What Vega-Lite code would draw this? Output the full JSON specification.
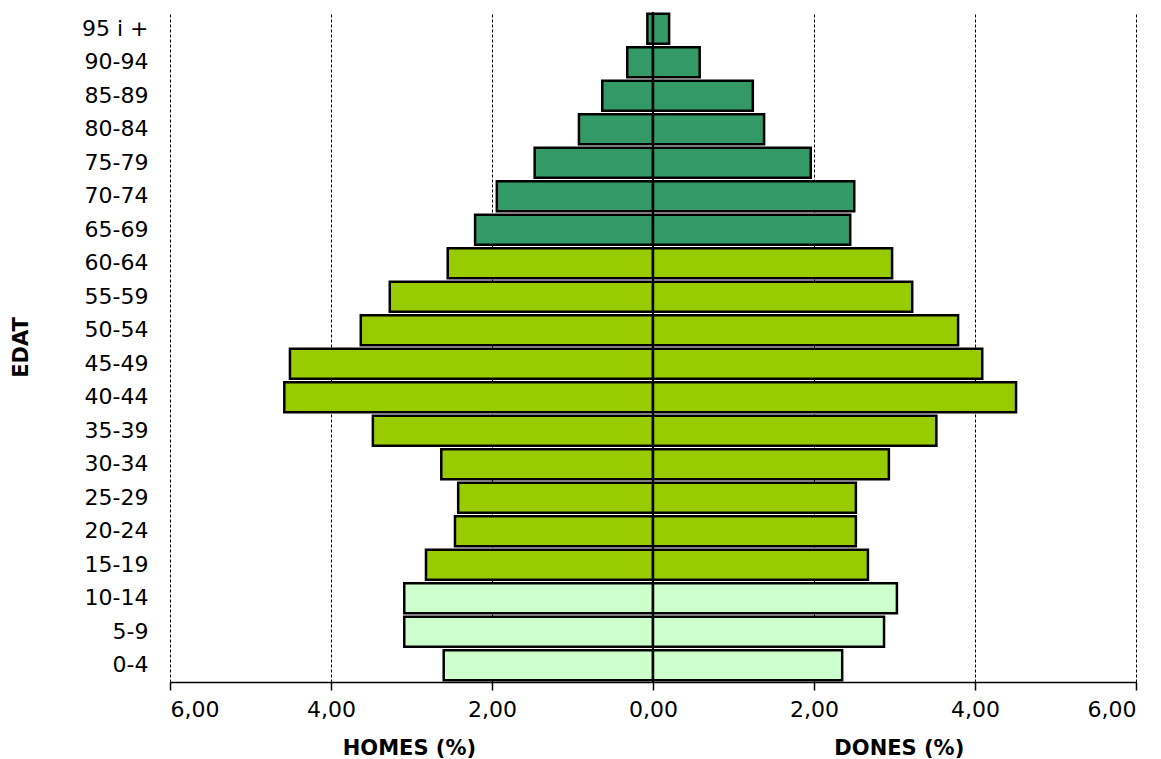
{
  "$schema": "https://vega.github.io/schema/vega-lite/v6.json",
  "width": 966,
  "height": 670,
  "autosize": "none",
  "padding": {"left": 170, "top": 12, "right": 25, "bottom": 77},
  "background": "white",
  "config": {
    "view": {"stroke": null},
    "font": "DejaVu Sans"
  },
  "data": {
    "values": [
      {"age": "95 i +", "sex": "Homes", "grp": "old", "value": -0.07},
      {"age": "90-94", "sex": "Homes", "grp": "old", "value": -0.32},
      {"age": "85-89", "sex": "Homes", "grp": "old", "value": -0.63},
      {"age": "80-84", "sex": "Homes", "grp": "old", "value": -0.92},
      {"age": "75-79", "sex": "Homes", "grp": "old", "value": -1.47},
      {"age": "70-74", "sex": "Homes", "grp": "old", "value": -1.94},
      {"age": "65-69", "sex": "Homes", "grp": "old", "value": -2.21},
      {"age": "60-64", "sex": "Homes", "grp": "adult", "value": -2.55},
      {"age": "55-59", "sex": "Homes", "grp": "adult", "value": -3.27},
      {"age": "50-54", "sex": "Homes", "grp": "adult", "value": -3.63},
      {"age": "45-49", "sex": "Homes", "grp": "adult", "value": -4.51},
      {"age": "40-44", "sex": "Homes", "grp": "adult", "value": -4.58},
      {"age": "35-39", "sex": "Homes", "grp": "adult", "value": -3.48},
      {"age": "30-34", "sex": "Homes", "grp": "adult", "value": -2.63},
      {"age": "25-29", "sex": "Homes", "grp": "adult", "value": -2.42},
      {"age": "20-24", "sex": "Homes", "grp": "adult", "value": -2.46},
      {"age": "15-19", "sex": "Homes", "grp": "adult", "value": -2.82},
      {"age": "10-14", "sex": "Homes", "grp": "young", "value": -3.09},
      {"age": "5-9", "sex": "Homes", "grp": "young", "value": -3.09},
      {"age": "0-4", "sex": "Homes", "grp": "young", "value": -2.6},
      {"age": "95 i +", "sex": "Dones", "grp": "old", "value": 0.2},
      {"age": "90-94", "sex": "Dones", "grp": "old", "value": 0.58},
      {"age": "85-89", "sex": "Dones", "grp": "old", "value": 1.24},
      {"age": "80-84", "sex": "Dones", "grp": "old", "value": 1.38},
      {"age": "75-79", "sex": "Dones", "grp": "old", "value": 1.96},
      {"age": "70-74", "sex": "Dones", "grp": "old", "value": 2.5},
      {"age": "65-69", "sex": "Dones", "grp": "old", "value": 2.45},
      {"age": "60-64", "sex": "Dones", "grp": "adult", "value": 2.97},
      {"age": "55-59", "sex": "Dones", "grp": "adult", "value": 3.22},
      {"age": "50-54", "sex": "Dones", "grp": "adult", "value": 3.79},
      {"age": "45-49", "sex": "Dones", "grp": "adult", "value": 4.09},
      {"age": "40-44", "sex": "Dones", "grp": "adult", "value": 4.51},
      {"age": "35-39", "sex": "Dones", "grp": "adult", "value": 3.52},
      {"age": "30-34", "sex": "Dones", "grp": "adult", "value": 2.93},
      {"age": "25-29", "sex": "Dones", "grp": "adult", "value": 2.52},
      {"age": "20-24", "sex": "Dones", "grp": "adult", "value": 2.52},
      {"age": "15-19", "sex": "Dones", "grp": "adult", "value": 2.67},
      {"age": "10-14", "sex": "Dones", "grp": "young", "value": 3.03},
      {"age": "5-9", "sex": "Dones", "grp": "young", "value": 2.87},
      {"age": "0-4", "sex": "Dones", "grp": "young", "value": 2.35}
    ]
  },
  "layer": [
    {
      "mark": {"type": "bar", "stroke": "black", "strokeWidth": 2.5},
      "encoding": {
        "y": {
          "field": "age",
          "type": "nominal",
          "scale": {
            "domain": ["95 i +", "90-94", "85-89", "80-84", "75-79", "70-74", "65-69", "60-64", "55-59", "50-54", "45-49", "40-44", "35-39", "30-34", "25-29", "20-24", "15-19", "10-14", "5-9", "0-4"],
            "paddingInner": 0.1,
            "paddingOuter": 0.05
          },
          "axis": {
            "title": "EDAT",
            "titleFont": "DejaVu Sans",
            "titleFontSize": 21,
            "titleFontWeight": "bold",
            "titleColor": "black",
            "titlePadding": 50,
            "domain": false,
            "ticks": false,
            "labelPadding": 22,
            "labelFontSize": 22,
            "labelColor": "black"
          }
        },
        "x": {
          "field": "value",
          "type": "quantitative",
          "scale": {"domain": [-6, 6], "nice": false, "zero": false},
          "axis": {
            "values": [-6, -4, -2, 0, 2, 4, 6],
            "labelExpr": "replace(format(abs(datum.value), '.2f'), '.', ',')",
            "title": "HOMES (%)\u00a0\u00a0\u00a0\u00a0\u00a0\u00a0\u00a0\u00a0\u00a0\u00a0\u00a0\u00a0\u00a0\u00a0\u00a0\u00a0\u00a0\u00a0\u00a0\u00a0\u00a0\u00a0\u00a0\u00a0\u00a0\u00a0\u00a0\u00a0\u00a0\u00a0\u00a0\u00a0\u00a0\u00a0\u00a0\u00a0\u00a0\u00a0\u00a0\u00a0\u00a0\u00a0\u00a0\u00a0\u00a0\u00a0\u00a0\u00a0\u00a0DONES (%)",
            "titleFontSize": 21,
            "titleFontWeight": "bold",
            "titleColor": "black",
            "titlePadding": 17,
            "labelFontSize": 22,
            "labelColor": "black",
            "labelPadding": 9,
            "domainColor": "black",
            "domainWidth": 1.5,
            "tickColor": "black",
            "tickSize": 8,
            "tickWidth": 1.5,
            "grid": true,
            "gridColor": "black",
            "gridDash": [3, 2],
            "gridWidth": 1
          }
        },
        "color": {
          "field": "grp",
          "type": "nominal",
          "scale": {"domain": ["old", "adult", "young"], "range": ["#339966", "#99CC00", "#CCFFCC"]},
          "legend": null
        }
      }
    },
    {
      "mark": {"type": "rule", "color": "black", "strokeWidth": 2},
      "encoding": {"x": {"datum": 0}}
    }
  ]
}
